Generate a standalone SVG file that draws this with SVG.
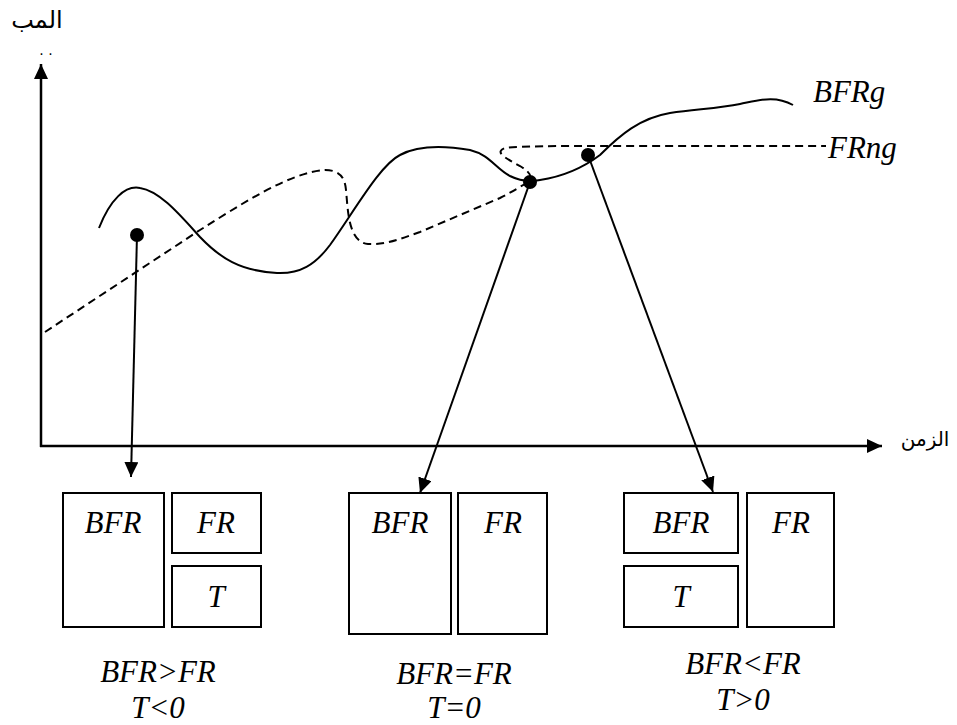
<svg xmlns="http://www.w3.org/2000/svg" width="957" height="725" viewBox="0 0 957 725">
  <style>
    .ln { fill: none; stroke: #000; stroke-width: 2; }
    .ax { fill: none; stroke: #000; stroke-width: 2.5; }
    .dash { fill: none; stroke: #000; stroke-width: 2; stroke-dasharray: 8 5; }
    .box { fill: #fff; stroke: #000; stroke-width: 2; }
    .lbl { font-family: 'Liberation Serif', 'Times New Roman', serif; font-style: italic; font-size: 31px; fill: #000; }
    .mid { text-anchor: middle; }
    .ar { font-family: 'DejaVu Sans', 'Noto Sans', sans-serif; fill: #000; }
    .pt { fill: #000; }
  </style>
  <defs>
    <marker id="head" markerUnits="userSpaceOnUse" markerWidth="16" markerHeight="14" refX="15" refY="7" orient="auto">
      <path d="M0,0 L15,7 L0,14 Z" fill="#000"/>
    </marker>
  </defs>

  <!-- axes -->
  <g id="axes">
    <line class="ax" x1="41" y1="447" x2="41" y2="64" marker-end="url(#head)"/>
    <line class="ax" x1="40" y1="446" x2="882" y2="446" marker-end="url(#head)"/>
    <text class="ar" x="37" y="28" font-size="24" text-anchor="middle" direction="rtl">المب</text>
    <text class="ar" x="46" y="55" font-size="14" text-anchor="middle">. .</text>
    <text class="ar" x="925" y="446" font-size="20" text-anchor="middle" direction="rtl">الزمن</text>
  </g>

  <!-- curves -->
  <g id="curve-BFRg">
    <path class="ln" d="M99,228 C110,200 125,185 140,188 C160,191 180,215 200,237 C220,258 240,271 277,273 C300,274 315,265 330,245 C355,210 380,165 400,155 C415,147 440,145 470,150 C490,155 495,168 510,176 C520,181 530,182 540,180 C560,177 580,170 600,155 C620,135 640,118 670,113 C700,109 720,108 740,104 C760,100 775,95 793,105"/>
    <text class="lbl" x="813" y="102">BFRg</text>
  </g>
  <g id="curve-FRng">
    <path class="dash" d="M45,332 L200,230 C240,205 290,172 325,170 C340,170 345,178 346,190 C348,210 348,242 368,244 C385,245 400,239 420,232 L500,198 C510,193 518,188 525,184 C535,178 530,172 520,166 C505,158 494,152 505,148 C520,146 560,146 600,146 L826,146"/>
    <text class="lbl" x="828" y="158">FRng</text>
  </g>

  <!-- connectors -->
  <g id="connectors">
    <line class="ln" x1="137" y1="235" x2="131" y2="477" marker-end="url(#head)"/>
    <line class="ln" x1="530" y1="182" x2="420" y2="493" marker-end="url(#head)"/>
    <line class="ln" x1="588" y1="155" x2="713" y2="492" marker-end="url(#head)"/>
    <circle class="pt" cx="137" cy="235" r="7"/>
    <circle class="pt" cx="530" cy="182" r="7"/>
    <circle class="pt" cx="588" cy="155" r="7"/>
  </g>

  <!-- case 1: BFR > FR -->
  <g id="case-negative">
    <rect class="box" x="63" y="493" width="101" height="134"/>
    <rect class="box" x="172" y="493" width="89" height="60"/>
    <rect class="box" x="172" y="566" width="89" height="61"/>
    <text class="lbl mid" x="113" y="533">BFR</text>
    <text class="lbl mid" x="216" y="533">FR</text>
    <text class="lbl mid" x="216" y="607">T</text>
    <text class="lbl mid" x="158" y="682">BFR&gt;FR</text>
    <text class="lbl mid" x="158" y="718">T&lt;0</text>
  </g>

  <!-- case 2: BFR = FR -->
  <g id="case-zero">
    <rect class="box" x="349" y="493" width="102" height="141"/>
    <rect class="box" x="458" y="493" width="89" height="141"/>
    <text class="lbl mid" x="400" y="533">BFR</text>
    <text class="lbl mid" x="503" y="533">FR</text>
    <text class="lbl mid" x="454" y="684">BFR=FR</text>
    <text class="lbl mid" x="454" y="718">T=0</text>
  </g>

  <!-- case 3: BFR < FR -->
  <g id="case-positive">
    <rect class="box" x="624" y="493" width="114" height="60"/>
    <rect class="box" x="624" y="566" width="114" height="61"/>
    <rect class="box" x="747" y="493" width="87" height="134"/>
    <text class="lbl mid" x="681" y="533">BFR</text>
    <text class="lbl mid" x="681" y="607">T</text>
    <text class="lbl mid" x="791" y="533">FR</text>
    <text class="lbl mid" x="743" y="674">BFR&lt;FR</text>
    <text class="lbl mid" x="743" y="710">T&gt;0</text>
  </g>
</svg>
